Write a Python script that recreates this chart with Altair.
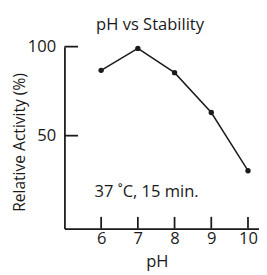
import altair as alt
import pandas as pd

ph = [6, 7, 8, 9, 10]
activity = [86.7, 99.0, 85.4, 63.0, 30.3]
y_ticks = [50, 100]
x_ticks = [6, 7, 8, 9, 10]
title_text = ["pH vs Stability"]
note_text = ["37 \u02daC, 15 min."]

FONT = "Open Sans"
INK = "#1a1a1a"
FS = 17

df = pd.DataFrame({"pH": ph, "act": activity})
yt = pd.DataFrame({"v": y_ticks})
xt = pd.DataFrame({"v": x_ticks})
note = pd.DataFrame({"x": [5.82], "y": [15.5], "t": note_text})
ttl = pd.DataFrame({"t": title_text})

xs = alt.Scale(domain=[5, 10.3], nice=False, zero=False)
ys = alt.Scale(domain=[-2.2, 100], nice=False, zero=False)

line = alt.Chart(df).mark_line(color=INK, strokeWidth=1.5, clip=False).encode(
    x=alt.X("pH:Q", scale=xs, title="pH",
            axis=alt.Axis(values=x_ticks, tickSize=0, labelPadding=2, domainColor=INK,
                          domainWidth=1.8, grid=False, labelFont=FONT, labelFontSize=FS,
                          labelColor=INK, titleFont=FONT, titleFontSize=FS, titleFontWeight="normal",
                          titleColor=INK, titleX=95, titleY=39, titleBaseline="alphabetic")),
    y=alt.Y("act:Q", scale=ys, title="Relative Activity (%)",
            axis=alt.Axis(values=y_ticks, tickSize=0, labelPadding=9, domainColor=INK,
                          domainWidth=1.8, grid=False, labelFont=FONT, labelFontSize=FS,
                          labelColor=INK, titleFont=FONT, titleFontSize=16, titleFontWeight="normal",
                          titleColor=INK, titleX=-38, titleY=98, titleAngle=-90,
                          titleBaseline="bottom", titleAlign="center")),
)
pts = alt.Chart(df).mark_point(filled=True, color=INK, size=30, opacity=1).encode(
    x=alt.X("pH:Q", scale=xs), y=alt.Y("act:Q", scale=ys))

yticks = alt.Chart(yt).mark_rule(color=INK, strokeWidth=1.8).encode(
    y=alt.Y("v:Q", scale=ys), x=alt.value(0), x2=alt.value(14))
xticks = alt.Chart(xt).mark_rule(color=INK, strokeWidth=1.8).encode(
    x=alt.X("v:Q", scale=xs), y=alt.value(187), y2=alt.value(175))

txt = alt.Chart(note).mark_text(align="left", baseline="alphabetic", font=FONT,
                                fontSize=FS, color=INK).encode(
    x=alt.X("x:Q", scale=xs), y=alt.Y("y:Q", scale=ys), text="t:N")

title = alt.Chart(ttl).mark_text(align="center", baseline="alphabetic", font=FONT,
                                 fontSize=FS, color=INK).encode(
    x=alt.value(88), y=alt.value(-17), text="t:N")

chart = alt.layer(line, pts, yticks, xticks, txt, title).properties(
    width=200, height=187,
    autosize=alt.AutoSizeParams(type="none"),
    padding={"left": 58, "top": 36, "right": 0, "bottom": 44},
).configure_view(stroke=None)

chart.save("out.html", embed_options={"renderer": "svg", "actions": False})
